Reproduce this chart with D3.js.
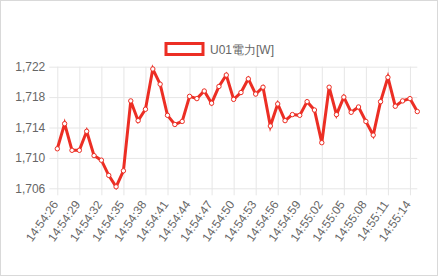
<!DOCTYPE html>
<html>
<head>
<meta charset="utf-8">
<script src="https://cdn.jsdelivr.net/npm/d3@7"></script>
<style>
    body { margin: 0; background: #fff; }
    svg { display: block; font-family: "Liberation Sans", Arial, sans-serif; }
</style>
</head>
<body>
<svg id="chart" width="438" height="276"></svg>
<script>
// one reading per second, 14:54:26 .. 14:55:15
const startTime = "14:54:26";
const seriesName = "U01電力[W]";
const powerValues = [
    1711.2, 1714.5, 1711.0, 1711.0, 1713.5, 1710.3, 1709.7, 1707.7, 1706.2, 1708.3,
    1717.5, 1714.9, 1716.4, 1721.7, 1719.7, 1715.6, 1714.4, 1714.8, 1718.1, 1717.8,
    1718.8, 1717.2, 1719.4, 1720.9, 1717.7, 1718.6, 1720.4, 1718.4, 1719.3, 1714.2,
    1717.1, 1714.9, 1715.7, 1715.6, 1717.4, 1716.3, 1712.0, 1719.3, 1715.7, 1718.0,
    1716.0, 1716.7, 1714.8, 1713.0, 1717.4, 1720.6, 1716.8, 1717.5, 1717.8, 1716.1
];
const yTicks = [1706, 1710, 1714, 1718, 1722];

// build time labels from start time
const parseTime = d3.timeParse("%H:%M:%S");
const fmtTime = d3.timeFormat("%H:%M:%S");
const t0 = parseTime(startTime);
const labels = powerValues.map((v, i) => fmtTime(new Date(t0.getTime() + i * 1000)));

const lineColor = "rgb(236,46,36)";
const gridColor = "#e6e6e6";
const textColor = "#666";

const svg = d3.select("#chart");

// outer frame
svg.append("rect")
    .attr("x", 0.5).attr("y", 0.5)
    .attr("width", 437).attr("height", 275)
    .attr("fill", "#fff")
    .attr("stroke", "#d9d9d9");

const area = { left: 57.3, right: 417.3, top: 66.7, bottom: 188.3 };

const x = d3.scalePoint()
    .domain(labels)
    .range([area.left, area.right]);

const y = d3.scaleLinear()
    .domain([1706, 1722])
    .range([area.bottom, area.top]);

// every third label is shown
const shownLabels = labels.filter((d, i) => i % 3 === 0);

// y axis with grid
const yAxis = d3.axisLeft(y)
    .tickValues(yTicks)
    .tickFormat(d3.format(","))
    .tickSizeInner(-(area.right - area.left))
    .tickSizeOuter(0)
    .tickPadding(12);

const gy = svg.append("g")
    .attr("transform", `translate(${area.left},0)`)
    .call(yAxis);
gy.select(".domain").remove();
gy.selectAll(".tick line")
    .attr("x1", -8)
    .attr("stroke", gridColor);
gy.selectAll(".tick text")
    .attr("fill", textColor)
    .attr("font-size", "12px");

// x axis with grid
const xAxis = d3.axisBottom(x)
    .tickValues(shownLabels)
    .tickSizeInner(-(area.bottom - area.top))
    .tickSizeOuter(0);

const gx = svg.append("g")
    .attr("transform", `translate(0,${area.bottom})`)
    .call(xAxis);
gx.select(".domain").remove();
gx.selectAll(".tick line")
    .attr("y1", 7)
    .attr("stroke", gridColor);
gx.selectAll(".tick text")
    .attr("fill", textColor)
    .attr("font-size", "12px")
    .attr("text-anchor", "end")
    .attr("dy", null)
    .attr("y", 0)
    .attr("transform", "translate(1,16) rotate(-55)");

// line
const line = d3.line()
    .x((d, i) => x(labels[i]))
    .y(d => y(d));

svg.append("path")
    .datum(powerValues)
    .attr("fill", "none")
    .attr("stroke", lineColor)
    .attr("stroke-width", 3)
    .attr("stroke-linejoin", "miter")
    .attr("d", line);

svg.append("g")
    .selectAll("circle")
    .data(powerValues)
    .join("circle")
    .attr("cx", (d, i) => x(labels[i]))
    .attr("cy", d => y(d))
    .attr("r", 2.2)
    .attr("fill", "#fff")
    .attr("stroke", lineColor)
    .attr("stroke-width", 1);

// legend
const legend = svg.append("g");
legend.append("rect")
    .attr("x", 166).attr("y", 43.5)
    .attr("width", 37).attr("height", 11)
    .attr("fill", "#fff")
    .attr("stroke", lineColor)
    .attr("stroke-width", 3);
legend.append("text")
    .attr("x", 210).attr("y", 54)
    .attr("fill", textColor)
    .attr("font-size", "12px")
    .text(seriesName);
</script>
</body>
</html>
